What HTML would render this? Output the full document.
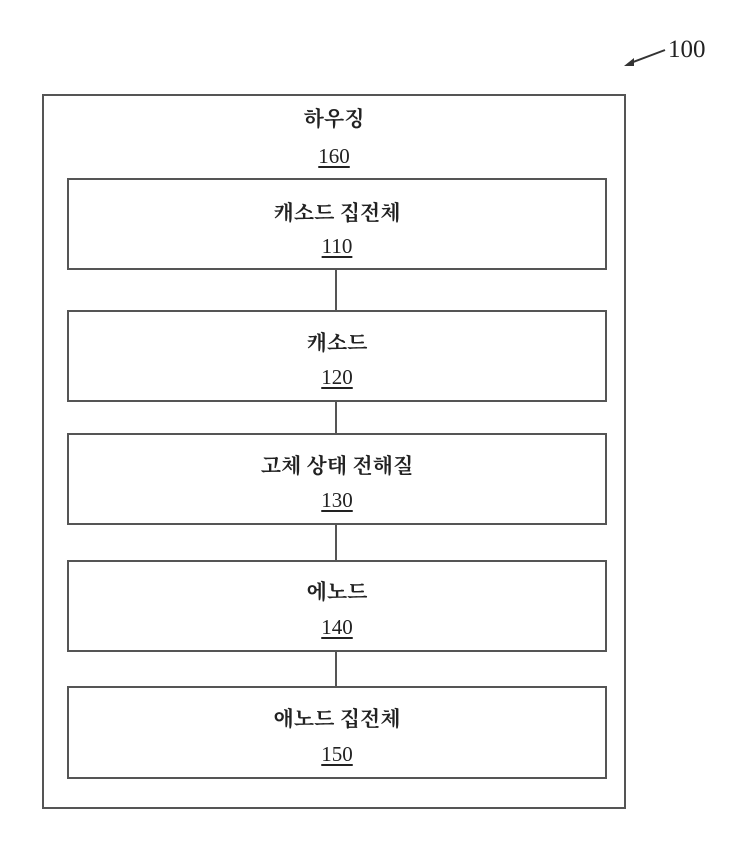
<!DOCTYPE html>
<html><head><meta charset="utf-8"><style>
body{margin:0;width:746px;height:858px;background:#fff;position:relative;font-family:"Liberation Serif","Noto Serif CJK SC",serif;color:#222;}
.b{position:absolute;border:2px solid #555;box-sizing:border-box;}
.t{position:absolute;left:0;right:0;text-align:center;font-size:21px;line-height:24px;font-weight:bold;}
.n{font-weight:normal;text-decoration:underline;text-decoration-thickness:2px;text-underline-offset:3px;}
.l{position:absolute;left:335px;width:2px;background:#555;}
</style></head><body>
<div style="position:absolute;left:668px;top:36px;font-size:25px;">100</div>
<svg style="position:absolute;left:620px;top:40px" width="50" height="30"><line x1="45" y1="10" x2="8" y2="24" stroke="#333" stroke-width="2"/><polygon points="4,26 14,18 14,26" fill="#333"/></svg>
<div class="b" style="left:42px;top:94px;width:584px;height:715px;"></div>
<div class="t" style="left:42px;width:584px;top:107px;">하우징</div>
<div class="t n" style="left:42px;width:584px;top:144px;">160</div>
<div class="b" style="left:67px;top:178px;width:540px;height:92px;"></div>
<div class="t" style="left:67px;width:540px;top:201px;">캐소드 집전체</div>
<div class="t n" style="left:67px;width:540px;top:234px;">110</div>
<div class="l" style="top:270px;height:40px;"></div>
<div class="b" style="left:67px;top:310px;width:540px;height:92px;"></div>
<div class="t" style="left:67px;width:540px;top:331px;">캐소드</div>
<div class="t n" style="left:67px;width:540px;top:365px;">120</div>
<div class="l" style="top:402px;height:31px;"></div>
<div class="b" style="left:67px;top:433px;width:540px;height:92px;"></div>
<div class="t" style="left:67px;width:540px;top:454px;">고체 상태 전해질</div>
<div class="t n" style="left:67px;width:540px;top:488px;">130</div>
<div class="l" style="top:525px;height:35px;"></div>
<div class="b" style="left:67px;top:560px;width:540px;height:92px;"></div>
<div class="t" style="left:67px;width:540px;top:580px;">에노드</div>
<div class="t n" style="left:67px;width:540px;top:615px;">140</div>
<div class="l" style="top:652px;height:34px;"></div>
<div class="b" style="left:67px;top:686px;width:540px;height:93px;"></div>
<div class="t" style="left:67px;width:540px;top:707px;">애노드 집전체</div>
<div class="t n" style="left:67px;width:540px;top:742px;">150</div>
</body></html>
